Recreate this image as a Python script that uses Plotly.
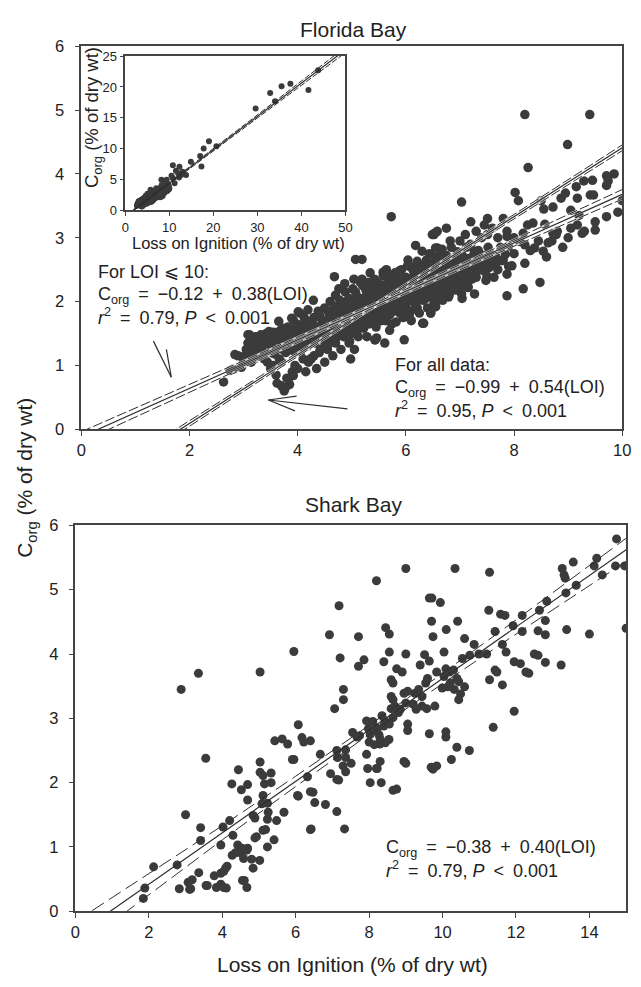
import plotly.graph_objects as go
import numpy as np

# ---------------- Florida Bay data (LOI %, Corg %) ----------------
fb_loi = [
    2.63, 2.75, 2.81, 2.84, 2.90, 2.96, 3.00, 3.05, 3.11, 3.10, 3.18, 3.20, 3.25, 3.28, 3.30, 3.35, 3.38, 3.42, 3.45, 3.48, 3.50,
    3.50, 3.60, 3.62, 3.70, 3.75, 3.80, 3.85, 3.90, 3.95, 3.70, 3.55, 3.77, 3.83, 3.92,
    3.55, 3.60, 3.62, 3.68, 3.70, 3.75, 3.78, 3.82, 3.85, 3.88, 3.90, 3.95, 3.98, 4.00, 4.02, 4.05, 4.08, 4.10, 4.12, 4.15,
    4.18, 4.20, 4.22, 4.25, 4.28, 4.30, 4.32, 4.35, 4.38, 4.40, 4.42, 4.45, 4.48, 4.50, 4.52, 4.55, 4.58, 4.60,
    4.04, 4.19, 3.92, 3.65, 3.47, 3.32, 3.17, 3.11, 3.08, 3.35, 3.50, 4.29, 4.01, 4.13, 3.89, 3.59,
    4.00, 4.10, 4.15, 4.20, 4.30, 4.35, 4.40, 4.50, 4.55, 4.60, 4.65, 4.70, 4.75, 4.80, 4.85, 4.90, 4.95, 5.00, 5.05, 5.10,
    4.23, 4.50, 4.98, 5.43, 5.28, 5.61, 5.97,
    4.62, 4.65, 4.68, 4.70, 4.72, 4.75, 4.78, 4.80, 4.82, 4.85, 4.88,
    4.90, 4.92, 4.95, 4.98, 5.00, 5.02, 5.05, 5.08, 5.10, 5.12, 5.15,
    5.18, 5.20, 5.22, 5.25, 5.28, 5.30, 5.32, 5.35, 5.38, 5.40,
    5.42, 5.45, 5.48, 5.50, 5.52, 5.55, 5.58, 5.60, 5.62, 5.65, 5.68, 5.70,
    5.72, 5.75, 5.78, 5.80, 5.82, 5.85, 5.88, 5.90, 5.92, 5.95, 5.98, 6.00,
    6.02, 6.05, 6.08, 6.10, 6.12, 6.15, 6.18, 6.20, 6.22, 6.25, 6.28, 6.30,
    6.32, 6.35, 6.38, 6.40, 6.42, 6.45, 6.48, 6.50, 6.52, 6.55, 6.58, 6.60,
    6.62, 6.65, 6.68, 6.70, 6.72, 6.75, 6.78, 6.80, 6.82, 6.85, 6.88, 6.90, 6.92, 6.95, 6.98,
    7.00, 7.05, 7.10, 7.12, 7.15, 7.20, 7.25, 7.30,
    4.70, 4.76, 4.86, 4.96, 5.04, 5.14, 5.24, 5.34, 5.44, 5.54, 5.64, 5.74, 5.84, 5.94, 6.04, 6.14, 6.24, 6.34,
    6.44, 6.54, 6.64, 6.74, 6.84, 6.94, 7.04, 7.14, 5.58, 5.28, 6.08, 6.36, 4.90, 5.06, 5.46, 5.86, 6.26, 6.66,
    5.52, 5.70, 6.06, 6.31, 6.46, 6.55, 6.79, 6.97, 4.89, 4.95, 4.83,
    5.40, 5.58, 5.76, 5.88, 6.03, 6.21, 6.36,
    4.68, 5.07, 5.19, 5.73, 6.52, 6.58, 6.18, 6.58, 6.65, 6.49, 6.55, 6.75, 6.82, 6.55, 6.67, 6.30, 6.21, 6.21, 5.19,
    7.15, 7.27, 7.03, 6.55, 6.33, 6.06, 6.46, 5.43, 5.46,
    7.03, 7.15, 7.27, 7.39, 7.45, 7.54, 7.63, 7.48, 7.78, 7.96, 7.87,
    7.00, 7.10, 7.20, 7.30, 7.35, 7.40, 7.50, 7.55, 7.60, 7.70, 7.75, 7.80, 7.90, 8.00, 8.10, 8.20, 8.30, 8.45, 8.60,
    8.70, 8.80, 8.90, 9.00, 9.05, 9.30, 7.87, 8.17, 8.48,
    7.00, 7.10, 7.20, 7.30, 7.40, 7.45, 7.60, 7.70, 7.80, 7.20, 7.51, 7.87, 7.87, 8.00, 7.90, 8.11, 7.84, 7.66, 7.66, 7.51,
    8.02, 8.08, 8.26, 8.99, 7.03, 8.20, 9.40,
    9.71, 9.74, 9.71, 10.0, 9.92, 9.71, 9.50, 9.50, 9.26, 9.17, 9.41, 9.47, 9.17, 9.29, 8.87, 8.72, 8.50, 8.57, 8.72,
    9.05, 9.20, 8.35, 8.17, 8.20, 8.38, 8.54, 8.63, 8.78,
    3.02, 3.08, 3.14, 3.22, 3.26, 3.33, 3.40, 3.44, 3.52, 3.57, 3.64, 3.66, 3.72, 3.74, 3.80, 3.86, 3.93, 3.96, 4.03, 4.06,
    4.11, 4.16, 4.20, 4.24, 4.27, 4.33, 4.37, 4.41, 4.44, 4.47, 4.53, 4.56, 4.60, 4.63, 4.66, 4.70, 4.74, 4.77, 4.80,
    4.83, 4.87, 4.93, 4.97, 5.01, 5.03, 5.07, 5.11, 5.13, 5.16, 5.19, 5.21, 5.23, 5.26, 5.29, 5.31, 5.33, 5.36, 5.39, 5.41,
    5.43, 5.47, 5.49, 5.51, 5.53, 5.56, 5.59, 5.61, 5.63, 5.66, 5.69, 5.71, 5.73, 5.76, 5.79, 5.81, 5.83, 5.86, 5.89, 5.91,
    5.93, 5.96, 5.99, 6.01, 6.03, 6.06, 6.09, 6.11, 6.13, 6.16, 6.19, 6.21, 6.23, 6.26, 6.29, 6.31, 6.33, 6.37, 6.39, 6.41,
    6.43, 6.47, 6.49, 6.51, 6.53, 6.57, 6.59, 6.61, 6.63, 6.67, 6.69, 6.71, 6.73, 6.77, 6.79, 6.81, 6.83, 6.87, 6.89, 6.91,
    6.93, 6.97, 6.99, 7.02, 7.06, 7.08, 7.11, 7.16, 7.18, 7.22, 7.24, 7.28, 7.32, 7.34, 7.38, 7.42, 7.46, 7.52, 7.57,
    8.25, 8.55, 8.95, 9.15, 9.45, 9.85,
]
fb_corg = [
    0.74, 0.92, 0.94, 1.17, 1.15, 0.97, 1.05, 1.25, 1.48, 1.20, 1.30, 1.10, 1.38, 1.22, 1.45, 1.30, 1.10, 1.50, 1.35, 1.20, 1.45,
    0.95, 0.85, 0.72, 0.68, 0.60, 0.80, 0.70, 0.90, 1.00, 1.05, 1.00, 0.64, 0.79, 0.84,
    1.52, 1.40, 1.25, 1.55, 1.35, 1.45, 1.20, 1.60, 1.40, 1.30, 1.55, 1.45, 1.65, 1.30, 1.50, 1.20, 1.60, 1.40, 1.75, 1.50,
    1.30, 1.65, 1.45, 1.10, 1.55, 1.75, 1.35, 1.60, 1.85, 1.50, 1.25, 1.70, 1.40, 1.90, 1.60, 1.30, 1.75, 2.00,
    1.82, 1.87, 1.71, 1.69, 1.53, 1.48, 1.35, 1.20, 1.48, 1.15, 1.20, 2.02, 1.84, 1.71, 1.74, 1.45,
    0.95, 1.10, 0.90, 1.05, 1.15, 0.95, 1.20, 1.05, 1.25, 1.40, 1.15, 1.35, 1.50, 1.25, 1.45, 1.60, 1.35, 1.50, 1.25, 1.55,
    1.10, 1.30, 1.10, 1.40, 1.45, 1.35, 1.40,
    1.55, 1.75, 1.92, 2.10, 1.62, 1.85, 2.02, 1.48, 1.70, 1.95, 2.15,
    1.80, 1.55, 2.05, 1.72, 1.90, 2.20, 1.62, 1.85, 2.08, 1.45, 1.95,
    1.72, 2.25, 1.58, 2.02, 1.85, 2.30, 1.65, 1.95, 2.12, 1.78,
    2.35, 1.60, 2.05, 1.88, 2.22, 1.70, 2.40, 1.95, 2.12, 1.78, 2.30, 1.55,
    2.02, 2.20, 1.85, 2.45, 1.68, 2.10, 2.32, 1.95, 2.50, 1.75, 2.18, 2.38,
    1.88, 2.05, 2.55, 1.70, 2.25, 2.42, 1.95, 2.12, 2.60, 1.82, 2.30, 2.48,
    2.02, 2.18, 2.65, 1.90, 2.38, 2.55, 2.08, 2.25, 1.98, 2.70, 2.45, 2.15,
    2.32, 2.60, 2.02, 2.48, 2.20, 2.72, 2.38, 2.10, 2.55, 2.28, 2.65, 2.42, 2.18, 2.78, 2.50,
    2.32, 2.62, 2.45, 2.85, 2.22, 2.55, 2.72, 2.38,
    1.40, 2.20, 1.62, 1.38, 2.35, 1.62, 1.90, 2.45, 1.82, 2.00, 2.50, 1.65, 1.90, 2.30, 2.65, 2.00, 2.05, 2.40,
    2.75, 2.35, 2.05, 2.45, 2.85, 2.30, 2.05, 2.65, 2.15, 2.10, 2.20, 2.30, 2.00, 2.05, 2.20, 2.00, 2.15, 2.25,
    1.92, 1.79, 1.76, 1.66, 1.82, 1.92, 2.07, 2.23, 1.81, 1.89, 1.74,
    2.33, 2.46, 2.40, 2.48, 2.56, 2.46, 2.51,
    2.39, 2.66, 2.66, 3.33, 3.05, 3.10, 2.88, 2.84, 2.74, 3.05, 3.08, 3.15, 2.95, 2.84, 2.82, 2.79, 2.58, 2.63, 2.35,
    2.23, 2.12, 2.12, 1.92, 1.66, 1.76, 1.82, 1.40, 1.43,
    2.74, 2.66, 2.79, 2.64, 2.48, 2.53, 2.38, 2.33, 2.64, 2.56, 2.43,
    2.50, 2.35, 2.60, 2.45, 2.70, 2.55, 2.40, 2.75, 2.60, 2.50, 2.85, 2.65, 2.55, 2.75, 2.95, 2.60, 2.80, 2.95, 2.70,
    2.95, 3.10, 2.85, 3.00, 3.15, 3.10, 2.09, 2.20, 2.30,
    2.95, 3.05, 2.90, 3.10, 3.00, 3.20, 3.15, 3.00, 3.30, 3.25, 3.30, 3.10, 3.02, 3.00, 2.87, 2.94, 2.74, 2.71, 2.58, 3.05,
    3.71, 3.58, 4.10, 4.46, 3.56, 4.93, 4.93,
    3.97, 3.89, 3.82, 3.58, 3.40, 3.33, 3.25, 3.12, 3.07, 3.20, 3.67, 3.67, 3.62, 3.89, 3.62, 3.48, 3.58, 3.21, 3.07,
    3.43, 3.35, 3.23, 3.07, 2.89, 2.84, 2.79, 2.92, 3.05,
    1.15, 1.35, 1.05, 1.45, 1.15, 1.25, 1.40, 1.05, 1.30, 1.18, 1.48, 1.10, 1.25, 1.58, 1.38, 1.52, 1.22, 1.36, 1.60, 1.42,
    1.28, 1.62, 1.50, 1.35, 1.70, 1.50, 1.42, 1.78, 1.55, 1.62, 1.45, 1.85, 1.55, 1.68, 1.45, 1.82, 1.55, 1.95, 1.60,
    1.85, 2.28, 1.68, 1.98, 1.55, 1.78, 2.15, 1.95, 1.72, 2.30, 1.82, 2.05, 1.68, 2.18, 1.95, 1.75, 2.05, 2.25, 1.90, 1.68,
    2.10, 1.95, 2.28, 1.75, 2.10, 1.85, 2.25, 2.05, 1.70, 1.92, 2.15, 2.40, 1.85, 2.08, 2.30, 1.95, 2.20, 2.45, 1.82, 2.12,
    2.25, 2.02, 2.30, 1.98, 2.15, 2.35, 1.85, 2.05, 2.50, 2.20, 2.35, 1.90, 2.15, 2.42, 2.10, 2.25, 2.55, 2.05, 2.28, 2.50,
    2.15, 2.35, 2.60, 2.12, 2.42, 2.28, 2.55, 2.08, 2.42, 2.30, 2.65, 2.15, 2.50, 2.25, 2.60, 2.42, 2.18, 2.52, 2.30, 2.70,
    2.45, 2.60, 2.20, 2.45, 2.70, 2.30, 2.55, 2.42, 2.68, 2.35, 2.55, 2.65, 2.50, 2.80, 2.60, 2.72, 2.62, 2.85, 2.68,
    3.20, 3.45, 3.70, 3.80, 3.90, 4.00,
]

# Extra Florida Bay samples with LOI > 10 (only visible in the inset)
fb_extra_loi = [43.8, 41.6, 37.5, 35.5, 34.0, 32.9, 29.6, 20.7, 19.0, 17.8, 17.0, 17.3, 14.9, 10.8, 12.3, 13.0,
                13.8, 12.7, 10.8, 11.2, 9.7, 11.5, 12.0, 10.5, 12.2]
fb_extra_corg = [22.7, 19.5, 20.5, 20.1, 17.7, 19.0, 16.5, 10.4, 11.2, 10.0, 8.8, 7.1, 7.85, 7.3, 7.05, 6.26,
                 5.7, 5.7, 5.2, 4.4, 4.2, 6.4, 6.0, 5.6, 5.3]

# ---------------- Shark Bay data ----------------
sb_loi = [
    9.00, 10.34, 11.28, 8.20, 9.71, 13.26, 13.31, 13.34, 13.56, 13.64, 13.36, 14.13, 14.20, 14.35, 14.71, 14.74, 14.96, 15.0,
    12.84, 12.64, 12.80, 12.80, 12.60, 13.38, 14.00, 13.23, 12.50, 12.60, 12.80,
    12.17, 11.92, 12.17, 11.26, 11.58, 11.70, 11.43, 11.63, 11.73, 11.95, 12.12, 12.27, 12.35, 11.43, 11.48, 11.28, 11.63, 11.95, 11.38,
    9.64, 9.94, 9.70, 10.41, 10.10, 9.74, 10.60, 10.86, 10.04, 10.54, 10.74, 10.99, 11.20, 9.64, 9.39, 9.51,
    9.84, 10.09, 10.19, 10.04, 10.30, 10.39, 10.44, 10.21, 10.14, 9.99, 10.32, 10.49, 10.44, 10.60,
    9.59, 9.54, 9.35, 9.25, 9.44, 9.79, 9.57,
    9.05, 8.95, 9.00, 8.70, 8.85, 8.80, 8.65, 8.55, 8.40, 8.35,
    9.20, 9.44, 9.28, 9.05, 9.05, 9.00,
    9.64, 10.09, 10.09, 10.39, 10.73, 9.69, 9.74, 9.84, 10.24,
    8.65, 8.75, 8.45, 8.55, 8.40, 8.55, 9.00, 8.75, 8.90, 8.60, 8.65, 8.60, 8.65,
    7.71, 7.86, 7.71, 7.21, 6.92, 7.18, 7.30, 7.30, 7.06,
    5.95, 5.03, 3.35, 2.88, 3.55, 6.07,
    5.43, 5.63, 5.78, 6.17, 6.22, 6.40, 5.95, 6.67, 7.12, 7.14, 7.36, 7.36, 7.51, 7.29, 7.36, 6.95, 7.12, 7.17, 6.32,
    6.07, 6.47, 6.52, 6.81, 7.12, 6.42, 7.33,
    7.55, 7.67, 7.74, 7.98, 8.03, 8.21, 8.00, 8.14, 8.29, 8.44, 8.54, 7.93, 8.30, 8.22, 7.96, 8.20, 8.03, 8.33, 8.95,
    7.93, 8.10, 8.20, 8.27, 8.30, 8.43, 8.60,
    4.44, 4.26, 4.69, 4.52, 5.03, 5.03, 5.11, 5.33, 5.15, 5.33, 5.11, 4.69, 4.84, 4.89, 5.08, 5.23, 5.25, 5.23, 5.48, 5.68,
    5.11, 5.18, 4.93, 4.89, 5.41, 5.23, 4.29, 4.02, 4.20, 3.96, 4.42, 4.54, 4.69, 3.41, 3.41, 3.00, 5.91, 6.05, 6.40, 6.40,
    4.36, 4.52, 4.67, 4.27, 4.58, 4.80, 5.02, 4.84, 4.09, 4.13, 3.96, 3.78, 4.04, 3.36, 3.18, 3.07, 3.11, 3.56, 3.84, 4.04,
    3.96, 4.55, 4.67, 2.83, 2.77, 2.13, 1.89, 1.85, 3.14, 3.59, 4.11, 4.60,
]
sb_corg = [
    5.33, 5.33, 5.27, 5.14, 4.87, 5.33, 5.23, 5.18, 5.43, 5.07, 4.95, 5.37, 5.49, 5.23, 5.37, 5.79, 5.37, 4.40,
    4.82, 4.68, 4.52, 4.30, 4.36, 4.38, 4.31, 3.83, 4.00, 3.98, 3.87,
    4.60, 4.44, 4.35, 4.68, 4.62, 4.60, 4.35, 4.15, 4.03, 3.88, 3.85, 3.72, 3.70, 3.75, 3.72, 3.60, 3.52, 3.11, 2.86,
    4.87, 4.80, 4.51, 4.51, 4.38, 4.27, 4.24, 4.15, 4.03, 3.93, 3.98, 4.00, 4.00, 3.89, 3.83, 3.99,
    3.72, 3.77, 3.72, 3.65, 3.75, 3.62, 3.57, 3.55, 3.49, 3.47, 3.45, 3.38, 3.29, 3.49,
    3.62, 3.55, 3.45, 3.39, 3.34, 3.19, 3.15,
    3.42, 3.39, 3.24, 3.19, 3.14, 3.09, 3.01, 2.91, 2.88, 3.04,
    3.22, 3.19, 3.14, 2.91, 2.81, 2.30,
    2.76, 2.79, 2.71, 2.55, 2.50, 2.24, 2.21, 2.26, 2.36,
    1.88, 1.90, 4.41, 4.31, 3.88, 4.03, 4.00, 3.77, 3.72, 3.60, 3.55, 3.34, 3.29,
    4.27, 3.91, 3.81, 3.94, 4.30, 4.75, 3.45, 3.29, 3.15,
    4.04, 3.72, 3.70, 3.45, 2.38, 2.90,
    2.65, 2.68, 2.60, 2.70, 2.63, 2.65, 2.36, 2.44, 2.50, 2.39, 2.51, 2.39, 2.30, 2.26, 2.17, 2.14, 2.05, 2.04, 2.09,
    1.79, 1.85, 1.69, 1.66, 1.55, 1.28, 1.28,
    2.78, 2.71, 2.73, 2.84, 2.75, 2.80, 2.63, 2.59, 2.60, 2.62, 2.67, 2.44, 2.33, 2.22, 2.22, 2.22, 2.00, 2.00, 2.33,
    2.96, 2.95, 2.85, 2.74, 2.68, 2.96, 3.15,
    2.20, 1.98, 1.97, 1.89, 2.32, 2.16, 2.11, 2.15, 1.98, 2.00, 1.80, 1.73, 1.49, 1.45, 1.67, 1.68, 1.54, 1.43, 1.41, 1.54,
    1.26, 1.27, 1.16, 1.14, 1.11, 1.00, 1.18, 1.31, 1.41, 1.03, 1.03, 0.98, 0.98, 1.30, 1.10, 1.50, 2.36, 1.80, 1.86, 1.27,
    0.91, 0.90, 0.95, 0.87, 0.82, 0.81, 0.79, 0.67, 0.67, 0.70, 0.59, 0.55, 0.62, 0.60, 0.49, 0.45, 0.34, 0.40, 0.37, 0.37,
    0.42, 0.48, 0.37, 0.35, 0.72, 0.69, 0.36, 0.20, 0.35, 0.40, 0.36, 0.48,
]

# ---------------- regressions (from the chart annotations) ----------------
fb_all_coef = (-0.99, 0.54)
fb_low_coef = (-0.12, 0.38)
sb_coef = (-0.38, 0.40)

# confidence-band half widths
fb_all_band_x = [1.6, 3.0, 5.0, 7.0, 10.0]
fb_all_band_hw = [0.045, 0.035, 0.025, 0.03, 0.045]
fb_low_band_x = [0.0, 2.0, 4.0, 5.5, 7.0, 10.0]
fb_low_band_hw = [0.08, 0.06, 0.035, 0.03, 0.04, 0.075]
inset_band_x = [1.8, 10.0, 20.0, 30.0, 40.0, 50.0]
inset_band_hw = [0.1, 0.1, 0.15, 0.25, 0.35, 0.45]
sb_band_x = [0.0, 2.0, 4.0, 6.0, 8.0, 10.0, 12.0, 15.0]
sb_band_hw = [0.22, 0.17, 0.11, 0.08, 0.07, 0.08, 0.11, 0.18]

W, H = 641, 987
DOT = "#3b3b3b"
LINE = "#2e2e2e"
AX = "#444444"
TXT = "#222222"
FONT = "Liberation Sans, Arial, sans-serif"
SP = "\u2002"


def px(v):
    return v / W


def py(v):
    return 1 - v / H


fig = go.Figure()


def add_fit(coef, bx, bhw, xa, ya, dash, lw=1.2, halo=False):
    a, b = coef
    xs = np.array(bx, dtype=float)
    hw = np.array(bhw, dtype=float)
    fit = a + b * xs
    curves = [(fit, "solid", lw), (fit + hw, dash, 1.0), (fit - hw, dash, 1.0)]
    if halo:
        for yv, _, _ in curves:
            fig.add_trace(go.Scatter(x=xs, y=yv, mode="lines",
                                     line=dict(color="rgba(255,255,255,0.75)", width=2.0),
                                     xaxis=xa, yaxis=ya, hoverinfo="skip"))
    for yv, d, w in curves:
        fig.add_trace(go.Scatter(x=xs, y=yv, mode="lines", line=dict(color=LINE, width=w, dash=d),
                                 xaxis=xa, yaxis=ya, hoverinfo="skip"))


# Florida Bay main
fig.add_trace(go.Scatter(x=fb_loi, y=fb_corg, mode="markers",
                         marker=dict(size=9.5, color=DOT), xaxis="x", yaxis="y"))
add_fit(fb_all_coef, fb_all_band_x, fb_all_band_hw, "x", "y", "10px,3px", halo=True)
add_fit(fb_low_coef, fb_low_band_x, fb_low_band_hw, "x", "y", "10px,3px", halo=True)

# Inset
fig.add_trace(go.Scatter(x=fb_loi + fb_extra_loi, y=fb_corg + fb_extra_corg, mode="markers",
                         marker=dict(size=6, color=DOT), xaxis="x3", yaxis="y3"))
add_fit(fb_all_coef, inset_band_x, inset_band_hw, "x3", "y3", "6px,2px", lw=1.2)

# Shark Bay
fig.add_trace(go.Scatter(x=sb_loi, y=sb_corg, mode="markers",
                         marker=dict(size=9, color=DOT), xaxis="x2", yaxis="y2"))
add_fit(sb_coef, sb_band_x, sb_band_hw, "x2", "y2", "14px,6px")


def ax_style(**kw):
    d = dict(showline=True, linecolor=AX, linewidth=1.5, mirror=True, ticks="outside",
             ticklen=5, tickwidth=1.2, tickcolor=AX, showgrid=False, zeroline=False,
             tickfont=dict(family=FONT, size=16.5, color=TXT), fixedrange=True)
    d.update(kw)
    return d


fig.update_layout(
    width=W, height=H, margin=dict(l=0, r=0, t=0, b=0),
    paper_bgcolor="white", plot_bgcolor="white", showlegend=False,
    font=dict(family=FONT, color=TXT),
    xaxis=ax_style(domain=[px(78), px(631)], range=[0, 10], tickvals=[0, 2, 4, 6, 8, 10], anchor="y"),
    yaxis=ax_style(domain=[py(428), py(38)], range=[0, 6], tickvals=[0, 1, 2, 3, 4, 5, 6], anchor="x",
                   ticklabelstandoff=7),
    xaxis2=ax_style(domain=[px(72), px(635)], range=[0, 15], tickvals=[0, 2, 4, 6, 8, 10, 12, 14], anchor="y2"),
    yaxis2=ax_style(domain=[py(919), py(526)], range=[0, 6], tickvals=[0, 1, 2, 3, 4, 5, 6], anchor="x2",
                    ticklabelstandoff=7),
    xaxis3=ax_style(domain=[px(123), px(348)], range=[0, 50], tickvals=[0, 10, 20, 30, 40, 50], anchor="y3",
                    ticklen=4, tickfont=dict(family=FONT, size=13, color=TXT)),
    yaxis3=ax_style(domain=[py(205), py(48)], range=[0, 25], tickvals=[0, 5, 10, 15, 20, 25], anchor="x3",
                    ticklen=4, tickfont=dict(family=FONT, size=13, color=TXT)),
)

ann = []


def text(x, y, s, size, xanchor="left", yanchor="middle", angle=0):
    ann.append(dict(x=px(x), y=py(y), xref="paper", yref="paper", text=s, showarrow=False,
                    xanchor=xanchor, yanchor=yanchor, textangle=angle,
                    font=dict(family=FONT, size=size, color=TXT)))


text(356, 21, "Florida Bay", 21, xanchor="center")
text(356, 505, "Shark Bay", 21, xanchor="center")
text(355, 973, "Loss on Ignition (% of dry wt)", 21, xanchor="center")
text(22, 478, "C<sub>org</sub> (% of dry wt)", 21, xanchor="center", angle=-90)
# inset titles
text(239, 238, "Loss on Ignition (% of dry wt)", 16.5, xanchor="center")
text(90, 111, "C<sub>org</sub> (% of dry wt)", 18.5, xanchor="center", angle=-90)

# equations
EQ = 18
text(93, 268, "For LOI ⩽ 10:", EQ)
text(93, 292, f"C<sub>org</sub>{SP}={SP}−0.12{SP}+{SP}0.38(LOI)", EQ)
text(93, 313, f"<i>r</i><sup>2</sup>{SP}={SP}0.79, <i>P</i>{SP}&lt;{SP}0.001", EQ)
text(397, 363, "For all data:", EQ)
text(397, 387, f"C<sub>org</sub>{SP}={SP}−0.99{SP}+{SP}0.54(LOI)", EQ)
text(397, 408, f"<i>r</i><sup>2</sup>{SP}={SP}0.95, <i>P</i>{SP}&lt;{SP}0.001", EQ)
text(387, 855, f"C<sub>org</sub>{SP}={SP}−0.38{SP}+{SP}0.40(LOI)", EQ)
text(387, 876, f"<i>r</i><sup>2</sup>{SP}={SP}0.79, <i>P</i>{SP}&lt;{SP}0.001", EQ)

fig.update_layout(annotations=ann)

# arrows (open heads) in Florida Bay panel
arrow_lines = [
    ((1.333, 1.38), (1.664, 0.815)),
    ((1.573, 1.25), (1.664, 0.815)),
    ((4.92, 0.318), (3.46, 0.457)),
    ((3.98, 0.518), (3.46, 0.457)),
    ((3.95, 0.287), (3.46, 0.457)),
]
fig.update_layout(shapes=[dict(type="line", xref="x", yref="y", x0=a[0], y0=a[1], x1=b[0], y1=b[1],
                               line=dict(color=LINE, width=1.2)) for a, b in arrow_lines])

fig.write_html("out.html")
